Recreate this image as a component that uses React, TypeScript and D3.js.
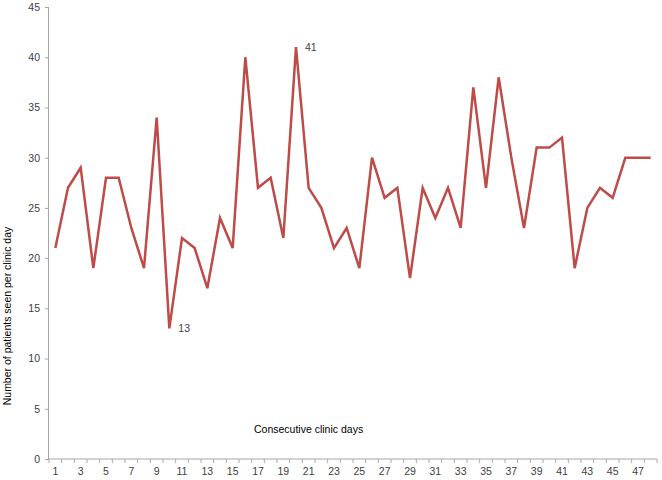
import React, { useEffect, useRef } from 'react';
import * as d3 from 'd3';

// clinic days 1..48
const days = d3.range(1, 49).map(String);
const patients = [
  21, 27, 29, 19, 28, 28, 23, 19, 34, 13,
  22, 21, 17, 24, 21, 40, 27, 28, 22, 41,
  27, 25, 21, 23, 19, 30, 26, 27, 18, 27,
  24, 27, 23, 37, 27, 38, 30, 23, 31, 31,
  32, 19, 25, 27, 26, 30, 30, 30,
];
const yTicks = [0, 5, 10, 15, 20, 25, 30, 35, 40, 45];
const labelled = ['10', '20'];

const W = 662;
const H = 480;
const margin = { top: 7, right: 5, bottom: 21, left: 49 };
const FONT = '"Liberation Sans", Arial, sans-serif';

const App = () => {
  const svgRef = useRef<SVGSVGElement>(null);

  useEffect(() => {
    const svg = d3.select(svgRef.current);
    svg.selectAll('*').remove();

    const x = d3.scaleBand().domain(days).range([margin.left, W - margin.right]);
    const y = d3.scaleLinear().domain([0, 45]).range([H - margin.bottom, margin.top]);
    const cx = (d: string) => (x(d) as number) + x.bandwidth() / 2;

    // y axis
    const yAxis = svg.append('g').attr('transform', `translate(${margin.left},0)`)
      .call(d3.axisLeft(y).tickValues(yTicks).tickSize(4).tickPadding(5));
    yAxis.select('.domain').attr('stroke', '#a6a6a6').attr('d', `M-0.5,${y(45)}V${y(0)}`);
    yAxis.selectAll('.tick line').attr('stroke', '#a6a6a6');
    yAxis.selectAll('text').attr('font-family', FONT).attr('font-size', 10.5).attr('fill', '#404040');

    // x axis: ticks on category boundaries, odd labels only
    const xg = svg.append('g').attr('transform', `translate(0,${y(0)})`);
    xg.append('line').attr('x1', margin.left).attr('x2', W - margin.right)
      .attr('stroke', '#a6a6a6');
    xg.selectAll('line.tk').data(days.concat(['end'])).join('line').attr('class', 'tk')
      .attr('x1', (d, i) => margin.left + i * x.bandwidth())
      .attr('x2', (d, i) => margin.left + i * x.bandwidth())
      .attr('y1', 0).attr('y2', 4).attr('stroke', '#a6a6a6');
    xg.selectAll('text').data(days.filter((d, i) => i % 2 === 0)).join('text')
      .attr('x', cx).attr('y', 16).attr('text-anchor', 'middle')
      .attr('font-family', FONT).attr('font-size', 10.5).attr('fill', '#404040')
      .text(d => d);

    // line
    const line = d3.line<number>().x((d, i) => cx(days[i])).y(d => y(d));
    svg.append('path').datum(patients).attr('d', line).attr('fill', 'none')
      .attr('stroke', '#be4b48').attr('stroke-width', 2.5).attr('stroke-linejoin', 'miter');

    // point labels
    svg.selectAll('text.lbl').data(labelled).join('text').attr('class', 'lbl')
      .attr('x', d => cx(d) + 9).attr('y', d => y(patients[days.indexOf(d)]) + 4)
      .attr('font-family', FONT).attr('font-size', 10.5).attr('fill', '#404040')
      .text(d => patients[days.indexOf(d)]);

    // titles
    svg.append('text').attr('x', 254).attr('y', 433)
      .attr('font-family', FONT).attr('font-size', 10.5).attr('fill', '#000')
      .text('Consecutive clinic days');
    svg.append('text').attr('transform', 'translate(11,316) rotate(-90)')
      .attr('text-anchor', 'middle')
      .attr('font-family', FONT).attr('font-size', 10.5).attr('fill', '#000')
      .text('Number of patients seen per clinic  day');
  }, []);

  return (
    <div style={{ position: 'absolute', left: 0, top: 0 }}>
      <svg ref={svgRef} width={W} height={H} style={{ display: 'block', background: '#fff' }} />
    </div>
  );
};

export default App;
